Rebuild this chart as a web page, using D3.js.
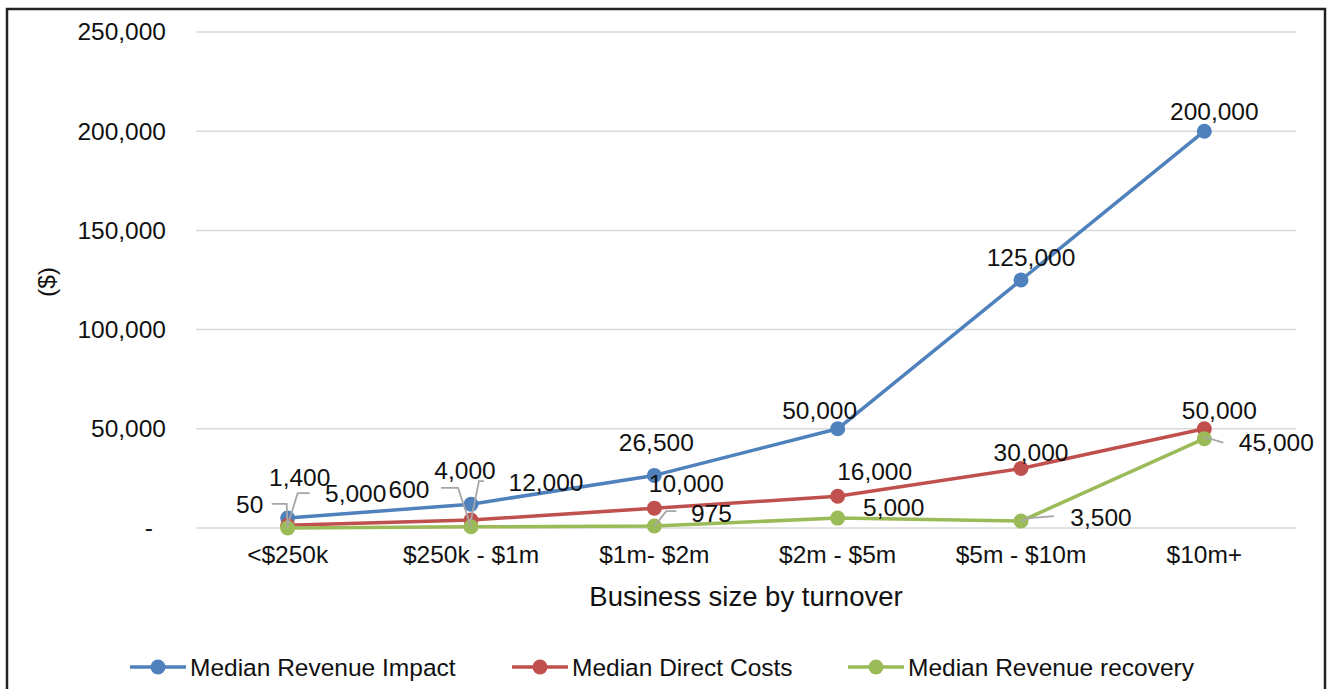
<!DOCTYPE html>
<html>
<head>
<meta charset="utf-8">
<script src="https://cdn.jsdelivr.net/npm/d3@7"></script>
<style>
  html, body { margin: 0; padding: 0; background: #fff; }
  svg { display: block; font-family: "Liberation Sans", Arial, sans-serif; }
</style>
</head>
<body>
<svg id="chart" width="1340" height="689"></svg>
<script>
// Business size bands
const categories = ["<$250k", "$250k - $1m", "$1m- $2m", "$2m - $5m", "$5m - $10m", "$10m+"];

// Median values ($) per band
const revenueImpact   = [5000, 12000, 26500, 50000, 125000, 200000];
const directCosts     = [1400, 4000, 10000, 16000, 30000, 50000];
const revenueRecovery = [50, 600, 975, 5000, 3500, 45000];

const seriesNames = ["Median Revenue Impact", "Median Direct Costs", "Median Revenue recovery"];
const yTicks = [0, 50000, 100000, 150000, 200000, 250000];

// Label placement per point: [dx, dy] of the label centre from the marker
const labelOffsets = [
  [[68, -25], [75, -22], [2, -33], [-18, -18], [10, -23], [10, -20]],
  [[12, -48], [-6, -50], [32, -25], [37, -25], [10, -16], [15, -18]],
  [[-38, -23], [-62, -37], [57, -13], [56, -11], [80, -4], [72, 4]]
];
// Leader lines: [elbow, end] offsets from the marker (null = none)
const leaders = [
  [null, null, null, null, null, null],
  [[[10, -32], [22, -32]], [[8, -39], [13, -39]], null, null, null, null],
  [[[-1, -24], [-16, -24]], [[-13, -39], [-30, -39]], [[12, -15], [22, -15]], null,
   [[8, -3], [33, -5]], [[2, -1], [19, 4]]]
];

const colors = ["#4F81BD", "#C0504D", "#9BBB59"];
const allSeries = [revenueImpact, directCosts, revenueRecovery];
const fontSize = 24.5;

const svg = d3.select("#chart");

// Outer frame
svg.append("rect")
  .attr("x", 7).attr("y", 9)
  .attr("width", 1318).attr("height", 720)
  .attr("fill", "none").attr("stroke", "#222").attr("stroke-width", 2.5);

const x = d3.scaleBand().domain(categories).range([196, 1296]).padding(0);
const cx = c => x(c) + x.bandwidth() / 2;
const y = d3.scaleLinear().domain([0, 250000]).range([528, 32]);

const fmt = d3.format(",");

// Gridlines
svg.append("g")
  .selectAll("line")
  .data(yTicks)
  .join("line")
  .attr("x1", 196).attr("x2", 1296)
  .attr("y1", d => y(d)).attr("y2", d => y(d))
  .attr("stroke", "#d9d9d9").attr("stroke-width", 1.5);

// Y axis labels
const yAxis = d3.axisLeft(y).tickValues(yTicks)
  .tickFormat(d => d === 0 ? "-" : fmt(d)).tickSize(0).tickPadding(0);
const yg = svg.append("g").attr("transform", "translate(166,0)").call(yAxis);
yg.select(".domain").remove();
yg.selectAll("text")
  .attr("font-size", fontSize).attr("fill", "#111")
  .attr("font-family", "Liberation Sans, Arial, sans-serif")
  .attr("dx", d => d === 0 ? -13 : 0);

// X axis labels
const xAxis = d3.axisBottom(x).tickSize(0).tickPadding(0);
const xg = svg.append("g").attr("transform", "translate(0,546)").call(xAxis);
xg.select(".domain").remove();
xg.selectAll("text")
  .attr("font-size", fontSize).attr("fill", "#111")
  .attr("font-family", "Liberation Sans, Arial, sans-serif");

// Axis titles
svg.append("text")
  .attr("x", 746).attr("y", 606)
  .attr("text-anchor", "middle")
  .attr("font-size", 27.5).attr("fill", "#111")
  .text("Business size by turnover");

svg.append("text")
  .attr("transform", "translate(55,282) rotate(-90)")
  .attr("text-anchor", "middle")
  .attr("font-size", fontSize).attr("fill", "#111")
  .text("($)");

// Series lines and markers
const line = d3.line().x((d, i) => cx(categories[i])).y(d => y(d));

allSeries.forEach((vals, s) => {
  const g = svg.append("g");
  g.append("path")
    .datum(vals)
    .attr("d", line)
    .attr("fill", "none")
    .attr("stroke", colors[s])
    .attr("stroke-width", 3.5)
    .attr("stroke-linejoin", "round");
  g.selectAll("circle")
    .data(vals)
    .join("circle")
    .attr("cx", (d, i) => cx(categories[i]))
    .attr("cy", d => y(d))
    .attr("r", 7.5)
    .attr("fill", colors[s]);
});

// Leader lines
allSeries.forEach((vals, s) => {
  vals.forEach((v, i) => {
    const L = leaders[s][i];
    if (!L) return;
    const px = cx(categories[i]), py = y(v);
    svg.append("polyline")
      .attr("points", [[px, py], [px + L[0][0], py + L[0][1]], [px + L[1][0], py + L[1][1]]]
        .map(p => p.join(",")).join(" "))
      .attr("fill", "none")
      .attr("stroke", "#a6a6a6")
      .attr("stroke-width", 1.8);
  });
});

// Data labels
allSeries.forEach((vals, s) => {
  svg.append("g")
    .selectAll("text")
    .data(vals)
    .join("text")
    .attr("x", (d, i) => cx(categories[i]) + labelOffsets[s][i][0])
    .attr("y", (d, i) => y(d) + labelOffsets[s][i][1])
    .attr("text-anchor", "middle")
    .attr("dominant-baseline", "central")
    .attr("font-size", fontSize)
    .attr("fill", "#111")
    .text(d => fmt(d));
});

// Legend
const legendX = [130, 512, 848];
const legend = svg.append("g");
seriesNames.forEach((name, s) => {
  const lx = legendX[s], ly = 667;
  legend.append("line")
    .attr("x1", lx).attr("x2", lx + 56)
    .attr("y1", ly).attr("y2", ly)
    .attr("stroke", colors[s]).attr("stroke-width", 3.5);
  legend.append("circle")
    .attr("cx", lx + 28).attr("cy", ly).attr("r", 7.5)
    .attr("fill", colors[s]);
  legend.append("text")
    .attr("x", lx + 60).attr("y", ly)
    .attr("dominant-baseline", "central")
    .attr("font-size", fontSize).attr("fill", "#111")
    .text(name);
});
</script>
</body>
</html>
